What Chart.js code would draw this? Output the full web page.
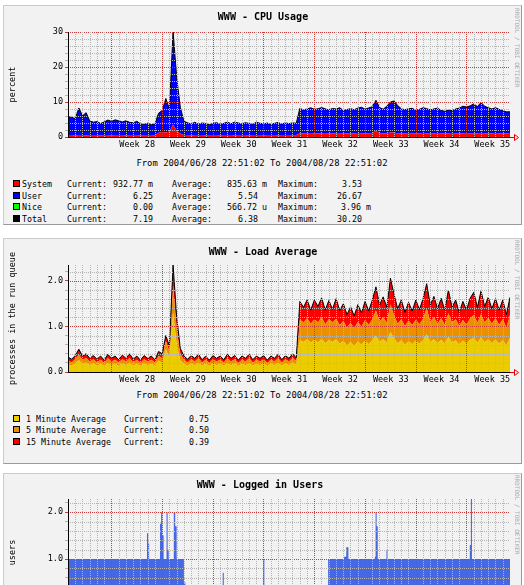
<!DOCTYPE html>
<html>
<head>
<meta charset="utf-8">
<script src="https://cdn.jsdelivr.net/npm/chart.js@4.4.0/dist/chart.umd.min.js"></script>
<style>
  html, body { margin: 0; padding: 0; background: #fff; }
  body { position: relative; width: 524px; height: 585px; overflow: hidden;
         font-family: "DejaVu Sans Mono", monospace; font-size: 8.3px; color: #000; }
  .panel { position: absolute; left: 3px; width: 519px; box-sizing: border-box; background: #f2f2f2;
           border: 1px solid; border-color: #cbcbcb #999 #999 #cbcbcb; }
  canvas { position: absolute; left: 3px; }
  .t { position: absolute; white-space: pre; line-height: 10px; }
  .range { font-size: 8.9px; }
  .title { font-weight: bold; font-size: 10px; }
  .sw { position: absolute; width: 7px; height: 7px; box-sizing: border-box; border: 1px solid #000; }
  .rrd { position: absolute; writing-mode: vertical-rl; font-size: 6px; line-height: 6px; color: #a8a8a8; }
</style>
</head>
<body>
<div class="panel" style="top:5px;height:220px"></div>
<div class="panel" style="top:238px;height:226px"></div>
<div class="panel" style="top:473px;height:226px"></div>
<canvas id="cpuChart" width="518" height="150" style="top:5px"></canvas>
<canvas id="loadChart" width="518" height="152" style="top:238px"></canvas>
<canvas id="usersChart" width="518" height="151" style="top:473px"></canvas>
<script>
// x = days since 2004/06/28 22:51:02, one sample every 12 hours
const sampleStep = 0.5;
const spanDays = 61;
const weekLabels = ['Week 28', 'Week 29', 'Week 30', 'Week 31', 'Week 32', 'Week 33', 'Week 34', 'Week 35'];

// CPU usage (percent)
const cpuSystem = [
  0.55, 0.6, 0.5, 0.55, 0.6, 0.5, 0.55, 0.6, 0.55, 0.5,
  0.55, 0.6, 0.5, 0.55, 0.6, 0.55, 0.5, 0.55, 0.6, 0.55,
  0.5, 0.55, 0.6, 0.55, 0.5, 1.2, 1.4, 1.3, 1.6, 3.53,
  1.8, 1.0, 0.55, 0.6, 0.5, 0.55, 0.6, 0.55, 0.5, 0.55,
  0.6, 0.55, 0.5, 0.55, 0.6, 0.55, 0.5, 0.55, 0.6, 0.55,
  0.5, 0.55, 0.6, 0.55, 0.5, 0.55, 0.6, 0.55, 0.5, 0.55,
  0.6, 0.55, 0.5, 0.55, 1.1, 1.05, 1.1, 1.15, 1.1, 1.05,
  1.1, 1.15, 1.1, 1.05, 1.1, 1.15, 1.1, 1.05, 1.1, 1.1,
  1.15, 1.1, 1.05, 1.1, 1.15, 1.8, 1.1, 1.05, 1.1, 1.3,
  1.3, 1.1, 1.05, 1.1, 1.15, 1.1, 1.05, 1.1, 1.15, 1.1,
  1.05, 1.1, 1.15, 1.1, 1.05, 1.1, 1.15, 1.1, 1.05, 1.1,
  1.15, 1.1, 1.05, 1.1, 1.15, 1.1, 1.05, 1.1, 1.15, 1.1,
  1.05, 1.0, 0.93
];
const cpuUser = [
  5.25, 5.05, 4.75, 7.75, 5.45, 6.45, 4.05, 3.65, 3.85, 3.35,
  3.75, 4.25, 3.95, 4.35, 4.05, 3.75, 4.15, 3.65, 3.45, 3.95,
  3.25, 3.05, 3.35, 2.95, 3.25, 5.6, 6.2, 9.7, 6.4, 26.67,
  15.2, 7.5, 3.95, 3.45, 3.25, 3.65, 3.05, 3.45, 3.35, 2.95,
  3.25, 3.55, 3.15, 3.35, 3.65, 3.25, 3.75, 3.45, 3.15, 3.55,
  3.35, 3.05, 3.65, 3.35, 3.25, 3.45, 2.95, 3.35, 3.65, 3.15,
  3.45, 3.25, 3.55, 3.35, 7.1, 6.7, 6.9, 7.2, 6.8, 7.0,
  7.3, 6.9, 6.6, 7.1, 6.9, 7.2, 6.5, 6.8, 7.0, 6.7,
  7.1, 7.4, 6.9, 7.2, 7.5, 8.7, 7.3, 6.9, 7.7, 8.7,
  9.0, 7.9, 7.0, 6.7, 6.9, 7.1, 6.6, 6.8, 7.2, 7.0,
  6.7, 6.9, 7.1, 6.5, 6.3, 6.6, 6.4, 6.9, 7.2, 7.7,
  7.4, 7.8, 8.4, 7.6, 8.7, 7.7, 7.3, 6.9, 7.2, 6.8,
  6.5, 6.2, 6.25
];
const cpuNames = ['System', 'User', 'Nice', 'Total'];
const cpuCurrent = ['932.77 m', '6.25', '0.00', '7.19'];
const cpuAverage = ['835.63 m', '5.54', '566.72 u', '6.38'];
const cpuMaximum = ['3.53', '26.67', '3.96 m', '30.20'];

// load average (processes in the run queue)
const load1 = [
  0.17, 0.14, 0.19, 0.26, 0.18, 0.21, 0.15, 0.19, 0.14, 0.18,
  0.13, 0.20, 0.15, 0.18, 0.14, 0.19, 0.15, 0.21, 0.14, 0.18,
  0.13, 0.19, 0.15, 0.18, 0.14, 0.25, 0.20, 0.50, 0.30, 1.30,
  0.60, 0.25, 0.18, 0.14, 0.19, 0.15, 0.20, 0.14, 0.18, 0.13,
  0.19, 0.15, 0.18, 0.14, 0.20, 0.15, 0.19, 0.13, 0.18, 0.15,
  0.20, 0.14, 0.18, 0.15, 0.19, 0.13, 0.18, 0.15, 0.20, 0.14,
  0.19, 0.15, 0.21, 0.16, 0.70, 0.66, 0.72, 0.64, 0.71, 0.65,
  0.73, 0.63, 0.70, 0.66, 0.72, 0.62, 0.68, 0.58, 0.66, 0.57,
  0.67, 0.60, 0.69, 0.61, 0.70, 0.80, 0.66, 0.72, 0.64, 0.88,
  0.74, 0.63, 0.70, 0.60, 0.68, 0.61, 0.69, 0.62, 0.70, 0.83,
  0.66, 0.72, 0.63, 0.71, 0.62, 0.77, 0.64, 0.70, 0.60, 0.69,
  0.62, 0.71, 0.75, 0.64, 0.76, 0.65, 0.72, 0.63, 0.71, 0.62,
  0.70, 0.58, 0.75
];
const load5 = [
  0.08, 0.07, 0.09, 0.12, 0.09, 0.10, 0.08, 0.09, 0.07, 0.09,
  0.07, 0.10, 0.08, 0.09, 0.07, 0.09, 0.08, 0.10, 0.07, 0.09,
  0.07, 0.09, 0.08, 0.09, 0.07, 0.10, 0.10, 0.18, 0.15, 0.60,
  0.35, 0.15, 0.09, 0.07, 0.09, 0.08, 0.10, 0.07, 0.09, 0.07,
  0.09, 0.08, 0.09, 0.07, 0.10, 0.08, 0.09, 0.07, 0.09, 0.08,
  0.10, 0.07, 0.09, 0.08, 0.09, 0.07, 0.09, 0.08, 0.10, 0.07,
  0.09, 0.08, 0.10, 0.08, 0.45, 0.43, 0.46, 0.42, 0.45, 0.44,
  0.47, 0.42, 0.46, 0.43, 0.45, 0.41, 0.44, 0.40, 0.42, 0.39,
  0.43, 0.40, 0.45, 0.42, 0.46, 0.55, 0.45, 0.48, 0.44, 0.60,
  0.50, 0.43, 0.46, 0.41, 0.45, 0.42, 0.46, 0.43, 0.47, 0.57,
  0.45, 0.48, 0.43, 0.47, 0.42, 0.52, 0.44, 0.46, 0.41, 0.45,
  0.42, 0.47, 0.50, 0.44, 0.51, 0.44, 0.47, 0.43, 0.47, 0.42,
  0.46, 0.40, 0.50
];
const load15 = [
  0.08, 0.07, 0.08, 0.12, 0.08, 0.09, 0.07, 0.08, 0.07, 0.08,
  0.06, 0.09, 0.07, 0.08, 0.06, 0.09, 0.07, 0.09, 0.07, 0.08,
  0.06, 0.08, 0.07, 0.08, 0.06, 0.10, 0.10, 0.12, 0.12, 0.45,
  0.25, 0.12, 0.08, 0.07, 0.08, 0.07, 0.09, 0.06, 0.08, 0.06,
  0.08, 0.07, 0.08, 0.06, 0.09, 0.07, 0.08, 0.06, 0.08, 0.07,
  0.09, 0.06, 0.08, 0.07, 0.08, 0.06, 0.08, 0.07, 0.09, 0.06,
  0.08, 0.07, 0.09, 0.07, 0.40, 0.33, 0.40, 0.30, 0.42, 0.35,
  0.43, 0.31, 0.41, 0.29, 0.44, 0.32, 0.38, 0.28, 0.35, 0.27,
  0.38, 0.30, 0.41, 0.31, 0.42, 0.52, 0.36, 0.45, 0.34, 0.58,
  0.46, 0.33, 0.42, 0.30, 0.40, 0.31, 0.43, 0.32, 0.44, 0.54,
  0.36, 0.46, 0.33, 0.44, 0.32, 0.51, 0.34, 0.42, 0.30, 0.41,
  0.32, 0.44, 0.50, 0.34, 0.51, 0.35, 0.45, 0.33, 0.43, 0.32,
  0.42, 0.28, 0.39
];
const loadNames = ['1 Minute Average', '5 Minute Average', '15 Minute Average'];
const loadCurrent = ['0.75', '0.50', '0.39'];

// logged in users: value holds from each time until the next one
const userTimes = [0, 10.9, 11.05, 11.2, 12.7, 12.85, 13.0, 13.2, 13.6, 13.75, 13.9, 14.6, 14.8, 15.0, 16.0, 16.2,
  21.35, 21.5, 26.95, 27.1, 35.9, 38.1, 38.4, 38.7, 42.35, 42.45, 42.6, 42.75, 43.95, 44.1, 55.45, 55.6, 55.75, 61];
const userCounts = [1, 1.55, 1.35, 1, 1.75, 2.0, 1.5, 1, 2.0, 1.2, 1, 2.0, 1.7, 1, 0.5, 0,
  0.71, 0, 1.0, 0, 1, 1.05, 1.25, 1, 1.05, 2.0, 1.7, 1, 1.2, 1, 1.3, 2.28, 1, 1];

const rangeText = 'From 2004/06/28 22:51:02 To 2004/08/28 22:51:02';

const mono = '"DejaVu Sans Mono", monospace';
const MINOR = '#b4b4b4';
const MAJOR = '#cc3a3a';
const NONE = 'rgba(0,0,0,0)';
Chart.defaults.font.family = mono;

const firstMidnight = (86400 - (22 * 3600 + 51 * 60 + 2)) / 86400;

function xTicks() {
  const out = [];
  for (let k = 0; firstMidnight + k < spanDays; k++) {
    const monday = k >= 6 && (k - 6) % 7 === 0;
    out.push({ value: firstMidnight + k, kind: monday ? 'major' : 'minor', text: '' });
  }
  weekLabels.forEach((w, j) => out.push({ value: firstMidnight + 9.5 + 7 * j, kind: 'label', text: w }));
  return out.sort((a, b) => a.value - b.value);
}

function yTicks(max, minorStep, majorEvery, digits) {
  const out = [];
  for (let k = 0; k * minorStep <= max + 1e-9; k++) {
    const v = k * minorStep;
    const major = k % majorEvery === 0;
    out.push({ value: v, kind: k === 0 ? 'zero' : (major ? 'major' : 'minor'), text: major ? v.toFixed(digits) : '' });
  }
  return out;
}

function gridColor(c) {
  if (!c.tick) return NONE;
  if (c.tick.kind === 'major') return MAJOR;
  if (c.tick.kind === 'minor') return MINOR;
  return NONE;
}
function tickMarkColor(c) {
  if (!c.tick) return NONE;
  if (c.tick.kind === 'minor') return MINOR;
  return MAJOR;
}

// horizontal grid lines, placed with the y scale
const yGridPlugin = {
  id: 'yGrid',
  afterDatasetsDraw(chart) {
    const { ctx, chartArea } = chart;
    const ys = chart.scales.y;
    ctx.save();
    ctx.lineWidth = 1;
    ctx.setLineDash([1, 1]);
    ys.ticks.forEach(t => {
      if (t.kind !== 'major' && t.kind !== 'minor') return;
      const y = Math.round(ys.getPixelForValue(t.value)) + 0.5;
      ctx.strokeStyle = t.kind === 'major' ? MAJOR : MINOR;
      ctx.beginPath();
      ctx.moveTo(chartArea.left, y);
      ctx.lineTo(chartArea.right, y);
      ctx.stroke();
    });
    ctx.restore();
  }
};

const arrowPlugin = {
  id: 'rrdArrow',
  afterDraw(chart) {
    const { ctx, chartArea } = chart;
    const y = Math.round(chart.scales.y.getPixelForValue(0)) + 0.5;
    const x = chartArea.right;
    ctx.save();
    ctx.strokeStyle = '#e00000';
    ctx.lineWidth = 1;
    ctx.beginPath();
    ctx.moveTo(x, y); ctx.lineTo(x + 4, y);
    ctx.moveTo(x + 4.5, y - 3); ctx.lineTo(x + 8.5, y); ctx.lineTo(x + 4.5, y + 3); ctx.closePath();
    ctx.stroke();
    ctx.restore();
  }
};

function makeOptions(yMax, yTickList, yTitle, top) {
  return {
    responsive: false,
    animation: false,
    events: [],
    layout: { padding: { top: top, right: 11, left: 0, bottom: 0 } },
    plugins: { legend: { display: false }, tooltip: { enabled: false }, title: { display: false } },
    elements: { point: { radius: 0 }, line: { tension: 0 } },
    scales: {
      x: {
        type: 'linear', min: 0, max: spanDays,
        afterBuildTicks: s => { s.ticks = xTicks(); },
        afterFit: s => { s.height = 18; },
        ticks: { autoSkip: false, maxRotation: 0, minRotation: 0, padding: 3, color: '#000',
                 font: { size: 8.5 }, callback: (v, i, t) => t[i].text },
        grid: { color: gridColor, drawTicks: false, z: 1 },
        border: { color: '#000', dash: [1, 1], z: 1 }
      },
      y: {
        stacked: true, min: 0, max: yMax,
        afterBuildTicks: s => { s.ticks = yTickList.map(t => Object.assign({}, t)); },
        afterFit: s => { s.width = 65; },
        ticks: { autoSkip: false, padding: 2, color: '#000', font: { size: 8.5 }, callback: (v, i, t) => t[i].text },
        grid: { drawOnChartArea: false, color: gridColor, tickColor: tickMarkColor, tickLength: 3, z: 1 },
        border: { color: '#000', z: 1 },
        title: { display: true, text: yTitle, color: '#000', font: { size: 8.5 }, padding: { top: 5, bottom: 0 } }
      }
    }
  };
}

const pts = arr => arr.map((v, i) => ({ x: i * sampleStep, y: v }));

// CPU chart
const cpuTotal = cpuUser.map((v, i) => v + cpuSystem[i]);
new Chart(document.getElementById('cpuChart'), {
  type: 'line',
  data: {
    datasets: [
      { label: 'Total', data: pts(cpuTotal), borderColor: '#000', borderWidth: 1, fill: false, stack: 'total' },
      { label: 'System', data: pts(cpuSystem), backgroundColor: '#ff0000', borderColor: NONE, borderWidth: 0, fill: 'origin', stack: 'cpu' },
      { label: 'User', data: pts(cpuUser), backgroundColor: '#0000ff', borderColor: NONE, borderWidth: 0, fill: '-1', stack: 'cpu' }
    ]
  },
  options: makeOptions(30, yTicks(30, 2, 5, 0), 'percent', 27),
  plugins: [yGridPlugin, arrowPlugin]
});

// load chart
const loadTotal = load1.map((v, i) => v + load5[i] + load15[i]);
new Chart(document.getElementById('loadChart'), {
  type: 'line',
  data: {
    datasets: [
      { label: 'Total', data: pts(loadTotal), borderColor: '#000', borderWidth: 1, fill: false, stack: 'total' },
      { label: loadNames[0], data: pts(load1), backgroundColor: '#eacc00', borderColor: NONE, borderWidth: 0, fill: 'origin', stack: 'load' },
      { label: loadNames[1], data: pts(load5), backgroundColor: '#ea8f00', borderColor: NONE, borderWidth: 0, fill: '-1', stack: 'load' },
      { label: loadNames[2], data: pts(load15), backgroundColor: '#ff0000', borderColor: NONE, borderWidth: 0, fill: '-1', stack: 'load' }
    ]
  },
  options: makeOptions(2.35, yTicks(2.35, 0.2, 5, 1), 'processes in the run queue', 27),
  plugins: [yGridPlugin, arrowPlugin]
});

// users chart
new Chart(document.getElementById('usersChart'), {
  type: 'line',
  data: {
    datasets: [
      { label: 'Users', data: userTimes.map((t, i) => ({ x: t, y: userCounts[i] })), stepped: true,
        backgroundColor: '#4668e4', borderColor: NONE, borderWidth: 0, fill: 'origin' }
    ]
  },
  options: makeOptions(2.28, yTicks(2.28, 0.2, 5, 1), 'users', 26),
  plugins: [yGridPlugin, arrowPlugin]
});

// text around the plots
function addText(text, x, y, align, cls) {
  const el = document.createElement('div');
  el.className = 't' + (cls ? ' ' + cls : '');
  el.textContent = text;
  el.style.top = (y - 5) + 'px';
  if (align === 'right') el.style.right = (524 - x) + 'px';
  else if (align === 'center') { el.style.left = x + 'px'; el.style.transform = 'translateX(-50%)'; }
  else el.style.left = x + 'px';
  document.body.appendChild(el);
}
function addSwatch(color, y) {
  const el = document.createElement('div');
  el.className = 'sw';
  el.style.left = '13px';
  el.style.top = (y - 4) + 'px';
  el.style.background = color;
  document.body.appendChild(el);
}
function addRrd(top) {
  const el = document.createElement('div');
  el.className = 'rrd';
  el.textContent = 'RRDTOOL / TOBI OETIKER';
  el.style.left = '514px';
  el.style.top = top + 'px';
  document.body.appendChild(el);
}

addText('WWW - CPU Usage', 263, 17, 'center', 'title');
addText('WWW - Load Average', 263, 252, 'center', 'title');
addText('WWW - Logged in Users', 260, 485, 'center', 'title');
addRrd(8); addRrd(240); addRrd(475);

addText(rangeText, 262, 163, 'center', 'range');
const cpuColors = ['#ff0000', '#0000ff', '#00ff00', '#000000'];
const cpuRows = [184, 196, 207, 219];
cpuNames.forEach((name, i) => {
  const y = cpuRows[i];
  const hasUnit = s => s.indexOf(' ') >= 0;
  addSwatch(cpuColors[i], y);
  addText(name, 22, y);
  addText('Current:', 67, y);
  addText(cpuCurrent[i], 153, y, 'right');
  addText('Average:', 172, y);
  addText(cpuAverage[i], hasUnit(cpuAverage[i]) ? 267 : 258, y, 'right');
  addText('Maximum:', 278, y);
  addText(cpuMaximum[i], hasUnit(cpuMaximum[i]) ? 371 : 362, y, 'right');
});

addText(rangeText, 262, 395, 'center', 'range');
const loadColors = ['#eacc00', '#ea8f00', '#ff0000'];
const loadRows = [419, 430, 442];
loadNames.forEach((name, i) => {
  const y = loadRows[i];
  addSwatch(loadColors[i], y);
  addText(name, 26, y);
  addText('Current:', 124, y);
  addText(loadCurrent[i], 209, y, 'right');
});
</script>
</body>
</html>
